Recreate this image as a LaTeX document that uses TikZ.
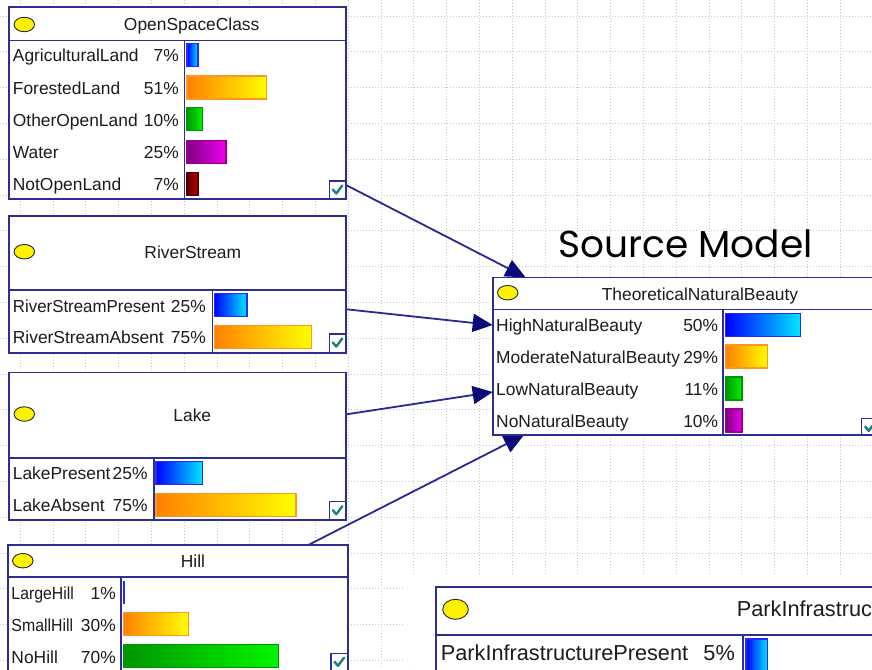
\documentclass[tikz,border=0pt]{standalone}
\usepackage{fontspec}
\setmainfont{Liberation Sans}
\newfontfamily\headfont{Poppins}
\usetikzlibrary{arrows.meta,shapes.geometric}

% palette
\definecolor{frame}{RGB}{46,46,144}
\definecolor{wire}{RGB}{40,40,150}
\definecolor{tipfill}{RGB}{10,10,120}
\definecolor{ink}{RGB}{28,28,28}
\definecolor{gridc}{RGB}{200,200,200}
\definecolor{tick}{RGB}{24,128,128}
\definecolor{blueL}{RGB}{0,0,255}
\definecolor{blueR}{RGB}{0,232,255}
\definecolor{blueB}{RGB}{40,40,255}
\definecolor{orangeL}{RGB}{255,128,0}
\definecolor{orangeR}{RGB}{255,255,0}
\definecolor{orangeB}{RGB}{255,150,30}
\definecolor{greenL}{RGB}{0,150,0}
\definecolor{greenR}{RGB}{0,245,0}
\definecolor{greenB}{RGB}{0,150,0}
\definecolor{purpleL}{RGB}{128,0,128}
\definecolor{purpleR}{RGB}{240,0,240}
\definecolor{purpleB}{RGB}{150,0,150}
\definecolor{redL}{RGB}{95,0,0}
\definecolor{redR}{RGB}{185,0,0}
\definecolor{redB}{RGB}{80,0,0}

\newcommand\rowfont{\fontsize{17.4}{20}\selectfont}
\newcommand\bigrowfont{\fontsize{21.7}{25}\selectfont}
\newcommand\narrow[1]{\scalebox{0.91}[1]{#1}}

% probability bar: x0, y centre, length, left colour, right colour, border colour
\newcommand\probbar[6]{%
  \shade[left color=#4,right color=#5] (#1,{#2-11.5}) rectangle ++(#3,23);
  \draw[#6,line width=1.2pt] (#1,{#2-11.5}) rectangle ++(#3,23);}

% check box in the lower right corner of a node
\newcommand\tickbox[4]{%
  \draw[frame,line width=1.4pt,fill=white] (#1,#2) rectangle (#3,#4);
  \draw[tick,line width=2.4pt,line cap=round,line join=round]
    ({#1+3.5},{#2+8.5}) -- ({#1+7},{#2+12.5}) -- ({#1+13},{#2+4.5});}

\tikzset{
  gridline/.style={gridc,line width=0.9pt,dash pattern=on 1.2pt off 1.8pt},
  nodebox/.style={draw=frame,fill=white,line width=1.6pt,anchor=north west,
    inner sep=0pt,outer sep=0pt},
  rule/.style={draw=frame,line width=1.6pt},
  lamp/.style={ellipse,draw=black!85,fill=yellow,line width=0.9pt,
    minimum width=20.5pt,minimum height=14.5pt,inner sep=0pt},
  statename/.style={anchor=base west,inner sep=0pt,text=ink,font=\rowfont},
  statepct/.style={anchor=base east,inner sep=0pt,text=ink,font=\rowfont},
  boxtitle/.style={anchor=base,inner sep=0pt,text=ink,font=\rowfont},
  link/.style={wire,line width=1.8pt,
    -{Triangle[length=20pt,width=18pt,color=tipfill]}},
}

\begin{document}
\begin{tikzpicture}[x=1pt,y=-1pt]
\useasboundingbox (0,0) rectangle (872,669);
\clip (0,0) rectangle (872,669);
\fill[white] (0,0) rectangle (872,669);

% dotted canvas grid
\foreach \i in {0,...,25}
  \draw[gridline] ({20.3+32.8*\i},0) -- ({20.3+32.8*\i},669);
\foreach \j in {0,...,18}
  \draw[gridline] (0,{16+35.8*\j}) -- (872,{16+35.8*\j});
% pasted panel without grid
\fill[white] (405,576) rectangle (872,669);

% link end points
\coordinate (osc-out) at (346,185);
\coordinate (tnb-top) at (525.5,277.3);
\coordinate (river-out) at (346.5,309.3);
\coordinate (tnb-high) at (492.7,325);
\coordinate (lake-out) at (346.5,414.3);
\coordinate (tnb-low) at (492.7,392);
\coordinate (hill-out) at (308.3,545);
\coordinate (tnb-bottom) at (524,435);

\draw[link] (osc-out) -- (tnb-top);
\draw[link] (river-out) -- (tnb-high);
\draw[link] (lake-out) -- (tnb-low);
\draw[link] (hill-out) -- (tnb-bottom);

% ---------------- OpenSpaceClass
\node[nodebox,minimum width=337pt,minimum height=191.7pt] (osc) at (9,7.3) {};
\draw[rule] (9,40.7) -- (346,40.7);
\draw[rule] (184.3,40.7) -- (184.3,199);
\node[lamp] (osc-lamp) at (24.3,24.5) {};
\node[boxtitle] (osc-title) at (191.7,30.3) {OpenSpaceClass};
\node[statename] (osc-n1) at (12.7,62.0) {AgriculturalLand};
\node[statepct]  (osc-p1) at (179,62.0) {7\%};
\node[statename] (osc-n2) at (12.7,94.5) {ForestedLand};
\node[statepct]  (osc-p2) at (179,94.5) {51\%};
\node[statename] (osc-n3) at (12.7,126.2) {OtherOpenLand};
\node[statepct]  (osc-p3) at (179,126.2) {10\%};
\node[statename] (osc-n4) at (12.7,158.8) {Water};
\node[statepct]  (osc-p4) at (179,158.8) {25\%};
\node[statename] (osc-n5) at (12.7,190.7) {NotOpenLand};
\node[statepct]  (osc-p5) at (179,190.7) {7\%};
\probbar{187}{55}{11}{blueL}{blueR}{blueB}
\probbar{187}{87.5}{79.7}{orangeL}{orangeR}{orangeB}
\probbar{187}{119.2}{15.7}{greenL}{greenR}{greenB}
\probbar{187}{151.8}{39}{purpleL}{purpleR}{purpleB}
\probbar{187}{183.7}{11}{redL}{redR}{redB}
\tickbox{329.3}{181}{346}{199}

% ---------------- RiverStream
\node[nodebox,minimum width=337pt,minimum height=136.7pt] (river) at (9,216) {};
\draw[rule] (9,290) -- (346,290);
\draw[rule] (212.3,290) -- (212.3,352.7);
\node[lamp] (river-lamp) at (24.3,251.7) {};
\node[boxtitle] (river-title) at (192.8,258.7) {RiverStream};
\node[statename] (river-n1) at (12.7,312.3) {\scalebox{0.97}[1]{RiverStreamPresent}};
\node[statepct]  (river-p1) at (206,312.3) {25\%};
\node[statename] (river-n2) at (12.7,343.8) {RiverStreamAbsent};
\node[statepct]  (river-p2) at (206,343.8) {75\%};
\probbar{214.5}{305.3}{32.4}{blueL}{blueR}{blueB}
\probbar{214.5}{336.8}{96.7}{orangeL}{orangeR}{orangeB}
\tickbox{329.3}{334}{346}{352.7}

% ---------------- Lake
\node[nodebox,minimum width=337pt,minimum height=147.7pt] (lake) at (9,372.3) {};
\draw[rule] (9,457.7) -- (346,457.7);
\draw[rule] (153.7,457.7) -- (153.7,520);
\node[lamp] (lake-lamp) at (24.3,414) {};
\node[boxtitle] (lake-title) at (192.3,421.7) {Lake};
\node[statename] (lake-n1) at (12.7,479.7) {LakePresent};
\node[statepct]  (lake-p1) at (147.7,479.7) {25\%};
\node[statename] (lake-n2) at (12.7,511.7) {LakeAbsent};
\node[statepct]  (lake-p2) at (147.7,511.7) {75\%};
\probbar{156}{472.7}{46.7}{blueL}{blueR}{blueB}
\probbar{156}{504.7}{140}{orangeL}{orangeR}{orangeB}
\tickbox{329.3}{501.7}{346}{520}

% ---------------- Hill
\node[nodebox,minimum width=339.7pt,minimum height=135pt] (hill) at (8,545) {};
\draw[rule] (8,576.7) -- (347.7,576.7);
\draw[rule] (120.7,576.7) -- (120.7,680);
\node[lamp] (hill-lamp) at (22.8,560.7) {};
\node[boxtitle] (hill-title) at (193,567.3) {Hill};
\node[statename] (hill-n1) at (11.3,599) {\narrow{LargeHill}};
\node[statepct]  (hill-p1) at (116,599) {1\%};
\node[statename] (hill-n2) at (11.3,631.3) {\narrow{SmallHill}};
\node[statepct]  (hill-p2) at (116,631.3) {30\%};
\node[statename] (hill-n3) at (11.3,663.2) {NoHill};
\node[statepct]  (hill-p3) at (116,663.2) {70\%};
\draw[blueB,line width=1.8pt] (123.8,580.5) -- (123.8,603.5);
\probbar{123.3}{624.3}{65}{orangeL}{orangeR}{orangeB}
\probbar{123.3}{656.2}{155}{greenL}{greenR}{greenB}
\tickbox{331}{653.3}{347.7}{672}

% ---------------- TheoreticalNaturalBeauty
\node[nodebox,minimum width=400pt,minimum height=157.7pt] (tnb) at (492.7,277.3) {};
\draw[rule] (492.7,309.3) -- (892.7,309.3);
\draw[rule] (722.7,309.3) -- (722.7,435);
\node[lamp] (tnb-lamp) at (507.7,292.7) {};
\node[boxtitle] (tnb-title) at (700,300) {TheoreticalNaturalBeauty};
\node[statename] (tnb-n1) at (496,331.7) {HighNaturalBeauty};
\node[statepct]  (tnb-p1) at (718.3,331.7) {50\%};
\node[statename] (tnb-n2) at (496,363.5) {ModerateNaturalBeauty};
\node[statepct]  (tnb-p2) at (718.3,363.5) {29\%};
\node[statename] (tnb-n3) at (496,395.5) {LowNaturalBeauty};
\node[statepct]  (tnb-p3) at (718.3,395.5) {11\%};
\node[statename] (tnb-n4) at (496,427.5) {NoNaturalBeauty};
\node[statepct]  (tnb-p4) at (718.3,427.5) {10\%};
\probbar{725.7}{324.7}{75}{blueL}{blueR}{blueB}
\probbar{725.7}{356.5}{42}{orangeL}{orangeR}{orangeB}
\probbar{725.7}{388.5}{16.3}{greenL}{greenR}{greenB}
\probbar{725.7}{420.5}{16.3}{purpleL}{purpleR}{purpleB}
\tickbox{861.7}{418.3}{880}{435}

% ---------------- ParkInfrastructure (larger scale panel)
\node[nodebox,minimum width=460pt,minimum height=100pt] (park) at (436,586.7) {};
\draw[rule] (436,635) -- (896,635);
\draw[rule] (742.7,635) -- (742.7,690);
\node[lamp,minimum width=25.6pt,minimum height=20pt] (park-lamp) at (455.5,609.3) {};
\node[anchor=base west,inner sep=0pt,text=ink,font=\bigrowfont] (park-title)
  at (736.7,616.7) {ParkInfrastruc};
\node[anchor=base west,inner sep=0pt,text=ink,font=\bigrowfont] (park-n1)
  at (440.7,660.7) {ParkInfrastructurePresent};
\node[anchor=base east,inner sep=0pt,text=ink,font=\bigrowfont] (park-p1)
  at (735,660.7) {5\%};
\shade[left color=blueL,right color=blueR] (746,639) rectangle (767.7,680);
\draw[blueB,line width=1.3pt] (746,639) rectangle (767.7,680);

% heading
\node[anchor=base,inner sep=0pt,font=\headfont\fontsize{37.5}{42}\selectfont]
  (heading) at (685.5,257.3) {Source Model};
\end{tikzpicture}
\end{document}
